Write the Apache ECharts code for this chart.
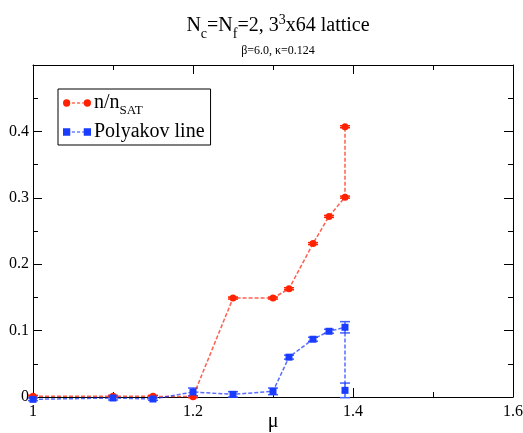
<!DOCTYPE html>
<html>
<head>
<meta charset="utf-8">
<script src="https://cdn.jsdelivr.net/npm/echarts@6/dist/echarts.min.js"></script>
<style>html,body{margin:0;padding:0;background:#fff}#c{width:523px;height:433px}</style>
</head>
<body>
<div id="c"></div>
<script>
// ---- data ----
var muRed = [1.0, 1.1, 1.15, 1.2, 1.25, 1.3, 1.32, 1.35, 1.37, 1.39, 1.39];
var nRatio = [0.001, 0.001, 0.001, 0.0005, 0.149, 0.149, 0.163, 0.231, 0.272, 0.301, 0.407];
var nErr = [0.0015, 0.0015, 0.0015, 0.0015, 0.0015, 0.0015, 0.0015, 0.0015, 0.0015, 0.0015, 0.0015];

var muBlue = [1.0, 1.1, 1.15, 1.2, 1.25, 1.3, 1.32, 1.35, 1.37, 1.39, 1.39];
var polyakov = [-0.0035, -0.0015, -0.003, 0.0075, 0.004, 0.0085, 0.060, 0.087, 0.099, 0.105, 0.010];
var polyErr = [0.002, 0.003, 0.002, 0.006, 0.004, 0.005, 0.003, 0.003, 0.003, 0.0085, 0.011];

var xTicks = [1, 1.2, 1.4, 1.6];
var yTicks = [0, 0.1, 0.2, 0.3, 0.4];

var RED = '#ff2200', BLUE = '#1a3cff';
var SERIF = '"Liberation Serif","DejaVu Serif",serif';

function pairs(xs, ys) { return xs.map(function (x, i) { return [x, ys[i]]; }); }
function triples(xs, ys, es) { return xs.map(function (x, i) { return [x, ys[i], es[i]]; }); }

function errRender(color) {
  return function (params, api) {
    var x = api.value(0), y = api.value(1), e = api.value(2);
    var lo = api.coord([x, y - e]), hi = api.coord([x, y + e]);
    var hw = 5;
    var st = { stroke: color, lineWidth: 1.5 };
    return {
      type: 'group',
      children: [
        { type: 'line', shape: { x1: lo[0], y1: lo[1], x2: hi[0], y2: hi[1] }, style: st },
        { type: 'line', shape: { x1: lo[0] - hw, y1: lo[1], x2: lo[0] + hw, y2: lo[1] }, style: st },
        { type: 'line', shape: { x1: hi[0] - hw, y1: hi[1], x2: hi[0] + hw, y2: hi[1] }, style: st }
      ]
    };
  };
}

// legend icons (drawn in 28x8 box)
var redIcon = 'path://M0.5,4a3.5,3.5 0 1,0 7,0a3.5,3.5 0 1,0 -7,0z' +
  'M9,3.5h3v1h-3z M14,3.5h3v1h-3z M19,3.5h1.5v1h-1.5z' +
  'M20.5,4a3.5,3.5 0 1,0 7,0a3.5,3.5 0 1,0 -7,0z';
var blueIcon = 'path://M0.5,0.5h7v7h-7z M9,3.5h3v1h-3z M14,3.5h3v1h-3z M19,3.5h1.5v1h-1.5z M20.5,0.5h7v7h-7z';

var chart = echarts.init(document.getElementById('c'), null, { renderer: 'canvas' });

var tickStyle = { color: '#000', width: 1 };
var baseX = {
  type: 'value', min: 1, max: 1.6, interval: 0.2,
  axisLine: { show: true, onZero: false, lineStyle: { color: '#000', width: 1 } },
  axisTick: { show: true, inside: true, length: 9, lineStyle: tickStyle },
  minorTick: { show: true, splitNumber: 2, length: 5, lineStyle: tickStyle },
  splitLine: { show: false }
};
var baseY = {
  type: 'value', min: 0, max: 0.5, interval: 0.1,
  axisLine: { show: true, onZero: false, lineStyle: { color: '#000', width: 1 } },
  axisTick: { show: true, inside: true, length: 9, lineStyle: tickStyle },
  minorTick: { show: true, splitNumber: 2, length: 5, lineStyle: tickStyle },
  splitLine: { show: false }
};

var tBase = { fontFamily: SERIF, color: '#000', fontWeight: 'normal' };
function st(o) { return Object.assign({}, tBase, o); }

chart.setOption({
  animation: false,
  backgroundColor: '#fff',
  title: [
    {
      text: '{n|N}{sub|c}{n|=N}{sub|f}{n|=2, 3}{sup|3}{n|x64 lattice}',
      left: 273, top: 8, textAlign: 'center',
      textStyle: {
        fontWeight: 'normal',
        rich: {
          n: st({ fontSize: 20, lineHeight: 26 }),
          sub: st({ fontSize: 14, lineHeight: 10, verticalAlign: 'top', padding: [14, 0, 0, 0] }),
          sup: st({ fontSize: 14, lineHeight: 10, verticalAlign: 'top', padding: [0, 0, 0, 0] })
        }
      }
    },
    {
      text: 'β=6.0, κ=0.124',
      left: 273, top: 40, textAlign: 'center',
      textStyle: st({ fontSize: 12 })
    }
  ],
  grid: { left: 33, right: 10, top: 65, bottom: 36, containLabel: false, outerBoundsMode: 'none' },
  legend: {
    left: 58, top: 89, orient: 'vertical',
    padding: [4, 6, 3, 5], itemGap: 5,
    borderColor: '#000', borderWidth: 1, backgroundColor: '#fff',
    itemWidth: 28, itemHeight: 8,
    data: [
      { name: 'n', icon: redIcon },
      { name: 'p', icon: blueIcon }
    ],
    formatter: function (name) {
      return name === 'n' ? '{t|n/n}{s|SAT}' : '{t|Polyakov line}';
    },
    textStyle: {
      padding: [0, 0, 0, -2],
      rich: {
        t: st({ fontSize: 20, lineHeight: 20 }),
        s: st({ fontSize: 13, lineHeight: 8, verticalAlign: 'top', padding: [11, 0, 0, 0] })
      }
    }
  },
  xAxis: [
    Object.assign({}, baseX, {
      position: 'bottom',
      name: 'μ', nameLocation: 'middle', nameGap: 15, nameMoveOverlap: false,
      nameTextStyle: st({ fontSize: 20 }),
      axisLabel: {
        show: true, margin: 7, fontFamily: SERIF, fontSize: 16, color: '#000',
        formatter: function (v) { return xTicks.indexOf(+v.toFixed(2)) >= 0 ? String(+v.toFixed(2)) : ''; }
      }
    }),
    Object.assign({}, baseX, { position: 'top', axisLabel: { show: false } })
  ],
  yAxis: [
    Object.assign({}, baseY, {
      position: 'left',
      axisLabel: {
        show: true, margin: 4, fontFamily: SERIF, fontSize: 16, color: '#000',
        formatter: function (v) { var r = +v.toFixed(2); return yTicks.indexOf(r) >= 0 ? String(r) : ''; }
      }
    }),
    Object.assign({}, baseY, { position: 'right', axisLabel: { show: false } })
  ],
  series: [
    {
      name: 'nerr', type: 'custom', xAxisIndex: 0, yAxisIndex: 0,
      renderItem: errRender(RED), data: triples(muRed, nRatio, nErr), z: 3, silent: true
    },
    {
      name: 'perr', type: 'custom', xAxisIndex: 0, yAxisIndex: 0,
      renderItem: errRender('#4060ff'), data: triples(muBlue, polyakov, polyErr), z: 3, silent: true
    },
    {
      name: 'n', type: 'line', xAxisIndex: 0, yAxisIndex: 0,
      data: pairs(muRed, nRatio),
      symbol: 'circle', symbolSize: 7, showSymbol: true,
      itemStyle: { color: RED },
      lineStyle: { color: 'rgba(255,40,20,0.75)', width: 1.5, type: [4, 2] },
      z: 4, clip: false
    },
    {
      name: 'p', type: 'line', xAxisIndex: 0, yAxisIndex: 0,
      data: pairs(muBlue, polyakov),
      symbol: 'rect', symbolSize: 7, showSymbol: true,
      itemStyle: { color: BLUE },
      lineStyle: { color: 'rgba(30,60,255,0.75)', width: 1.5, type: [4, 2] },
      z: 5, clip: false
    }
  ]
});
</script>
</body>
</html>
